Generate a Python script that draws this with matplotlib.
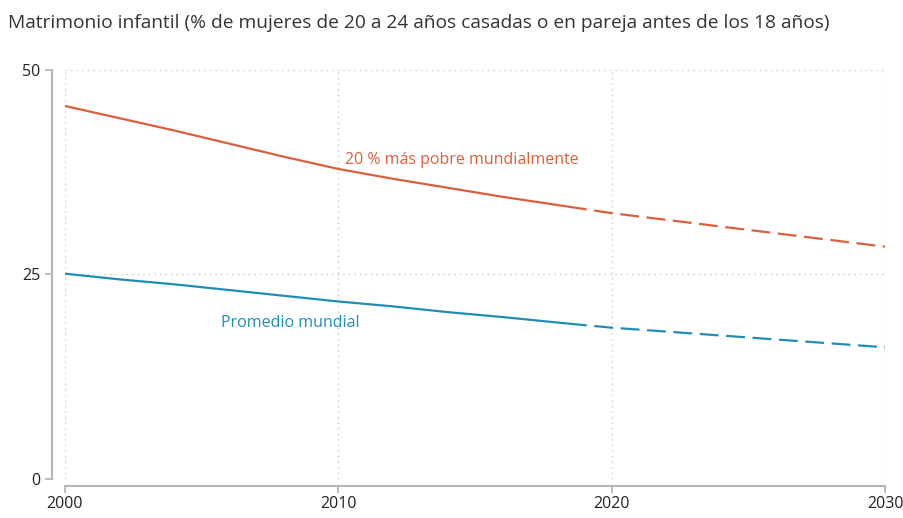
import numpy as np
import matplotlib.pyplot as plt

plt.rcParams['font.family'] = ['Open Sans', 'DejaVu Sans']

# data
years_obs = [2000, 2002, 2004, 2006, 2008, 2010, 2012, 2014, 2016, 2018.4]
poorest_obs = [45.6, 44.1, 42.6, 41.0, 39.4, 37.9, 36.7, 35.6, 34.5, 33.3]
world_obs = [25.1, 24.4, 23.8, 23.1, 22.4, 21.7, 21.1, 20.4, 19.8, 19.0]

years_proj = [2018.4, 2020, 2030]
poorest_proj = [33.3, 32.5, 28.4]
world_proj = [19.0, 18.5, 16.1]

red = '#dc5f3c'
blue = '#1f8db4'
grey = '#b5b5b5'

fig = plt.figure(figsize=(9.04, 5.18), dpi=100)
ax = fig.add_axes([0.0719, 0.0753, 0.9071, 0.7896])

ax.plot(years_obs, poorest_obs, color=red, lw=1.6, solid_capstyle='butt', solid_joinstyle='round')
ax.plot(years_proj, poorest_proj, color=red, lw=1.6, dashes=(8.5, 3.4))
ax.plot(years_obs, world_obs, color=blue, lw=1.6, solid_capstyle='butt', solid_joinstyle='round')
ax.plot(years_proj, world_proj, color=blue, lw=1.6, dashes=(8.5, 3.4))

ax.text(2010.25, 38.5, '20 % más pobre mundialmente', color=red, fontsize=11.5)
ax.text(2005.7, 18.6, 'Promedio mundial', color=blue, fontsize=11.5)

ax.set_xlim(2000, 2030)
ax.set_ylim(0, 50)
ax.set_xticks([2000, 2010, 2020, 2030])
ax.set_yticks([0, 25, 50])

# dotted grid
for x in [2000, 2010, 2020, 2030]:
    ax.axvline(x, color='#c8c8c8', lw=1, ls=(0, (1, 3)), zorder=0)
for y in [25, 50]:
    ax.axhline(y, color='#c8c8c8', lw=1, ls=(0, (1, 3)), zorder=0)

for s in ['top', 'right']:
    ax.spines[s].set_visible(False)
ax.spines['left'].set_position(('outward', 9.5))
ax.spines['bottom'].set_position(('outward', 5))
ax.spines['left'].set_bounds(0, 50)
ax.spines['bottom'].set_bounds(2000, 2030)
ax.spines['left'].set_color(grey)
ax.spines['bottom'].set_color(grey)
ax.spines['left'].set_linewidth(1.5)
ax.spines['bottom'].set_linewidth(1.5)
ax.tick_params(axis='both', colors=grey, labelcolor='#222222', labelsize=11.5,
               length=5, width=1.3)
ax.tick_params(axis='y', pad=3)
ax.tick_params(axis='x', pad=2)

fig.text(0.009, 0.955, 'Matrimonio infantil (% de mujeres de 20 a 24 años casadas o en pareja antes de los 18 años)',
         fontsize=13.8, color='#333333', va='center', ha='left')

fig.savefig('out.png', dpi=100)
